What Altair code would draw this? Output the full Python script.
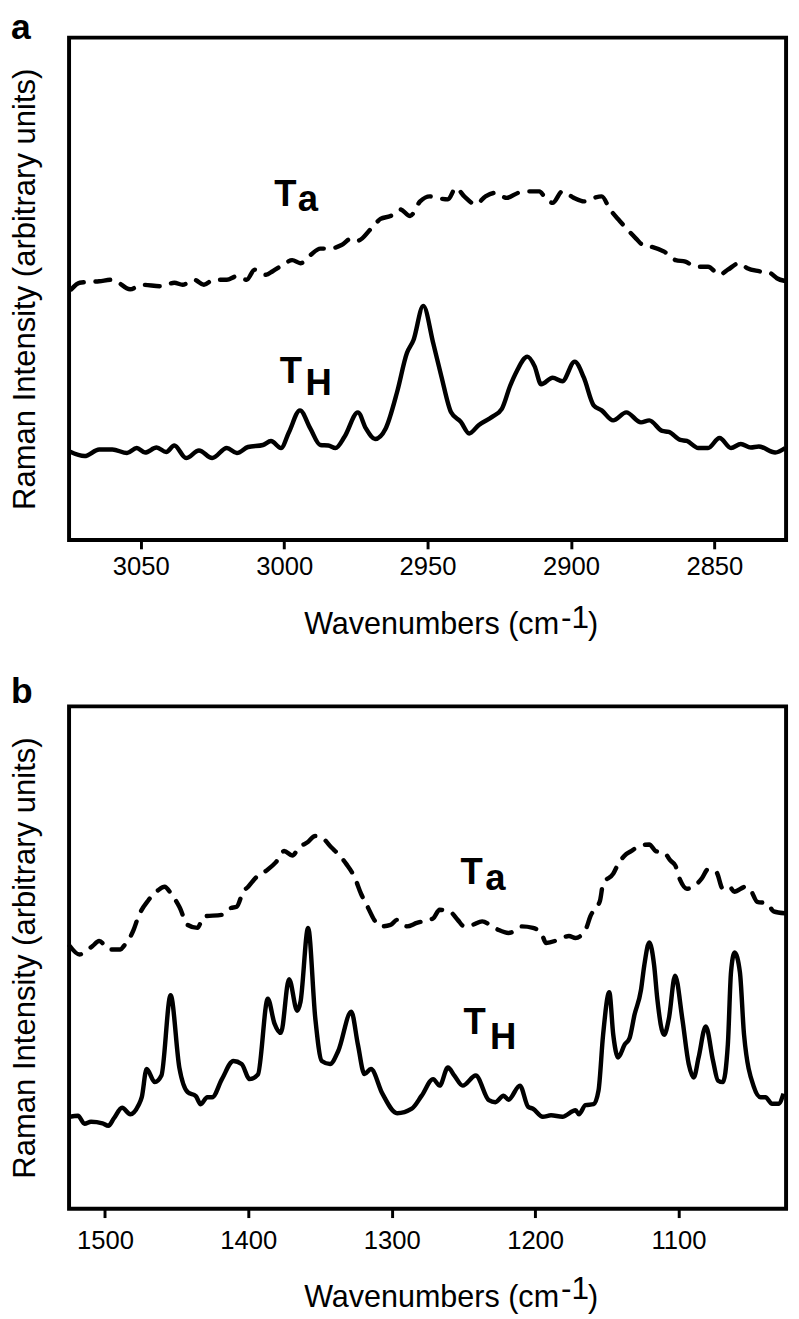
import altair as alt
import pandas as pd

FONT = "Liberation Sans"

# ---------------- Panel a (C-H stretching region) ----------------
A_TH_WN = [3074.8, 3069.6, 3064.5, 3059.9, 3054.8, 3051.4, 3048.5, 3044.5, 3041.1, 3038.3,
           3034.2, 3029.7, 3025.1, 3020.0, 3016.5, 3012.6, 3007.4, 3004.6, 3001.1, 2998.3,
           2994.5, 2990.9, 2987.4, 2984.6, 2982.1, 2978.9, 2974.3, 2971.5, 2968.3, 2964.6,
           2960.6, 2957.2, 2954.9, 2951.5, 2948.0, 2945.2, 2941.8, 2938.4, 2935.5, 2932.1,
           2927.5, 2924.1, 2921.2, 2918.9, 2915.2, 2912.7, 2910.4, 2906.4, 2903.0, 2898.7,
           2895.5, 2892.1, 2889.3, 2885.3, 2880.7, 2875.6, 2872.7, 2868.2, 2865.9, 2861.9,
           2859.6, 2855.6, 2852.2, 2848.2, 2844.2, 2840.8, 2837.3, 2834.5, 2828.8, 2825.3]
A_TH_I = [17.6, 16.7, 18.0, 18.0, 17.3, 18.3, 17.4, 18.4, 17.5, 18.8,
          16.3, 17.8, 16.3, 18.3, 17.3, 18.5, 18.9, 19.7, 18.3, 21.5,
          25.8, 22.2, 18.9, 18.8, 18.3, 20.6, 25.4, 22.2, 20.1, 22.2,
          29.5, 37.2, 39.8, 46.6, 39.1, 32.6, 25.4, 23.5, 21.2, 22.9,
          24.5, 26.1, 30.7, 33.6, 36.5, 34.6, 31.0, 32.3, 31.6, 35.5,
          32.3, 26.8, 25.8, 23.8, 25.4, 23.4, 23.8, 21.7, 21.5, 19.9,
          19.7, 18.3, 18.3, 20.3, 18.3, 19.1, 18.4, 18.6, 17.4, 18.3]

A_TA_WN = [3074.2, 3071.3, 3064.5, 3059.9, 3053.7, 3049.7, 3042.8, 3038.3, 3035.4, 3031.4,
           3028.0, 3024.6, 3020.0, 3016.5, 3013.1, 3010.3, 3006.3, 3004.0, 3000.6, 2997.2,
           2994.3, 2990.9, 2987.4, 2984.6, 2980.0, 2976.6, 2974.3, 2969.8, 2966.4, 2962.9,
           2959.5, 2956.1, 2952.6, 2949.2, 2946.9, 2942.9, 2940.1, 2937.2, 2933.2, 2929.8,
           2926.4, 2922.4, 2918.4, 2915.0, 2911.0, 2909.3, 2906.4, 2903.0, 2899.0, 2895.5,
           2892.1, 2889.3, 2886.4, 2883.0, 2877.3, 2874.9, 2871.5, 2867.5, 2863.5, 2860.1,
           2856.6, 2852.2, 2848.2, 2845.3, 2841.3, 2838.5, 2834.5, 2830.5, 2828.2, 2824.8]
A_TA_I = [49.9, 51.2, 51.5, 51.8, 49.9, 50.8, 50.5, 51.2, 50.8, 51.8,
          50.8, 51.8, 51.8, 52.5, 51.8, 53.8, 52.8, 53.5, 54.7, 55.7,
          55.1, 56.7, 58.0, 58.0, 58.7, 60.0, 59.6, 61.9, 63.9, 64.5,
          65.8, 64.5, 67.4, 68.4, 68.1, 67.8, 70.1, 68.4, 66.8, 68.4,
          69.1, 68.1, 69.1, 69.4, 69.4, 68.4, 67.1, 69.4, 68.1, 67.4,
          68.1, 68.4, 65.8, 63.5, 60.0, 58.7, 58.3, 57.4, 55.7, 55.4,
          54.4, 54.4, 52.8, 53.8, 55.1, 54.1, 53.5, 53.1, 52.1, 51.5]

A_LAB_TXT = ["T", "a", "T", "H"]
A_LAB_WN = [3003.5, 2995.3, 3001.5, 2992.6]
A_LAB_I = [66.5, 65.5, 31.2, 28.8]
A_TICKS = [3050, 3000, 2950, 2900, 2850]
A_DOMAIN = [2825, 3075]

# ---------------- Panel b (fingerprint region) ----------------
B_TH_WN = [1524.5, 1518.8, 1514.2, 1509.7, 1501.7, 1497.6, 1493.7, 1488.0, 1482.3, 1476.6,
           1474.3, 1470.9, 1465.2, 1460.6, 1454.2, 1448.1, 1442.3, 1436.6, 1433.2, 1428.6,
           1425.2, 1418.4, 1410.4, 1404.7, 1399.0, 1393.3, 1386.4, 1381.8, 1377.3, 1371.6,
           1365.9, 1363.6, 1358.3, 1353.3, 1348.8, 1343.0, 1337.3, 1328.2, 1323.6, 1319.0,
           1314.5, 1306.5, 1296.2, 1286.0, 1279.1, 1271.1, 1266.6, 1260.8, 1256.3, 1250.5,
           1241.4, 1232.3, 1227.7, 1222.0, 1218.6, 1210.6, 1204.9, 1201.5, 1194.7, 1188.9,
           1181.0, 1171.8, 1169.5, 1164.9, 1159.2, 1155.8, 1152.6, 1148.3, 1145.5, 1142.1,
           1137.5, 1134.1, 1130.7, 1126.2, 1123.9, 1120.4, 1117.0, 1114.8, 1110.1, 1106.7,
           1102.4, 1097.4, 1092.9, 1089.4, 1086.0, 1081.0, 1075.9, 1072.5, 1069.1, 1065.6,
           1063.4, 1060.9, 1057.2, 1054.3, 1047.4, 1042.8, 1039.4, 1034.8, 1030.3, 1026.8]
B_TH_I = [18.3, 18.5, 16.9, 17.3, 17.0, 16.5, 18.0, 20.1, 18.8, 20.6,
          22.2, 27.8, 25.2, 26.5, 42.5, 28.1, 23.2, 22.4, 20.8, 22.2,
          22.2, 25.8, 29.4, 28.8, 25.8, 26.7, 41.8, 36.9, 35.0, 45.7,
          39.4, 41.2, 55.9, 37.9, 29.4, 28.8, 31.4, 39.2, 32.7, 26.8,
          27.8, 22.9, 19.0, 19.9, 22.5, 25.8, 24.5, 28.1, 26.5, 24.5,
          26.5, 21.6, 21.2, 22.5, 21.7, 24.5, 20.3, 19.9, 18.3, 18.6,
          18.3, 19.6, 18.8, 20.6, 20.8, 23.5, 34.6, 43.1, 34.6, 30.1,
          32.7, 34.0, 38.6, 43.5, 48.4, 53.0, 48.4, 41.8, 34.6, 37.9,
          46.4, 37.9, 28.8, 26.1, 30.1, 36.3, 29.4, 25.5, 25.2, 32.7,
          47.1, 51.0, 47.1, 34.6, 24.2, 22.2, 22.2, 20.9, 20.9, 22.9]

B_TA_WN = [1524.5, 1517.7, 1513.2, 1508.6, 1504.0, 1497.1, 1489.2, 1486.8, 1480.0, 1476.6,
           1469.7, 1462.9, 1458.4, 1453.8, 1448.1, 1442.3, 1435.5, 1431.0, 1418.4, 1412.7,
           1408.1, 1403.6, 1400.1, 1394.4, 1387.5, 1380.7, 1375.0, 1369.3, 1364.7, 1359.0,
           1353.3, 1348.8, 1342.0, 1337.3, 1331.6, 1325.9, 1321.4, 1316.8, 1312.2, 1307.7,
           1300.8, 1296.3, 1289.4, 1282.5, 1271.1, 1266.6, 1259.7, 1254.0, 1249.4, 1243.7,
           1236.9, 1230.0, 1225.5, 1218.6, 1212.9, 1209.5, 1201.5, 1195.8, 1192.3, 1183.2,
           1176.4, 1171.8, 1164.9, 1161.5, 1154.7, 1152.6, 1145.5, 1142.1, 1136.4, 1133.0,
           1127.3, 1120.4, 1115.9, 1110.1, 1105.6, 1102.2, 1098.8, 1094.2, 1089.6, 1083.9,
           1079.3, 1073.6, 1069.1, 1064.5, 1061.1, 1053.1, 1049.7, 1045.1, 1038.2, 1033.7,
           1025.7]
B_TA_I = [52.3, 50.6, 51.3, 52.3, 53.3, 51.6, 51.6, 52.3, 55.5, 58.2,
          61.4, 63.4, 64.1, 62.7, 60.1, 56.5, 55.9, 58.2, 58.5, 59.8,
          60.1, 63.1, 64.1, 66.0, 67.3, 69.0, 71.2, 70.3, 71.9, 72.9,
          74.2, 73.9, 71.9, 70.6, 68.6, 66.0, 62.7, 60.1, 57.5, 56.2,
          56.5, 57.5, 56.2, 56.9, 57.8, 59.5, 59.2, 57.5, 56.2, 56.5,
          57.2, 56.2, 55.5, 54.9, 55.5, 56.2, 55.9, 54.9, 52.9, 53.6,
          54.3, 53.9, 55.5, 58.2, 61.4, 64.7, 66.7, 68.6, 70.6, 71.2,
          72.2, 72.5, 71.2, 70.9, 69.3, 68.3, 65.4, 63.7, 64.1, 65.7,
          67.6, 67.0, 63.7, 64.1, 63.1, 64.1, 63.4, 61.1, 60.8, 59.2,
          58.8]

B_LAB_TXT = ["T", "a", "T", "H"]
B_LAB_WN = [1252.0, 1234.8, 1250.0, 1231.4]
B_LAB_I = [64.7, 63.4, 34.7, 31.8]
B_TICKS = [1500, 1400, 1300, 1200, 1100]
B_DOMAIN = [1025, 1525]

Y_TITLE = "Raman Intensity (arbitrary units)"
X_MAIN = "Wavenumbers (cm"
X_SUP = "-1"
X_CLOSE = ")"

W = 728
H = 510


def panel(letter, th_wn, th_i, ta_wn, ta_i, lab_txt, lab_wn, lab_i,
          domain, ticks, label_pad, xt_main, xt_sup, letter_y):
    xs = alt.Scale(domain=domain, reverse=True, nice=False, zero=False)
    ys = alt.Scale(domain=[0, 100], nice=False, zero=False)
    xa = alt.Axis(values=ticks, format="d", title=None, domain=False, grid=False,
                  ticks=True, tickSize=9, tickWidth=3, tickColor="black",
                  labelFontSize=26, labelFont=FONT, labelColor="black",
                  labelPadding=label_pad, labelFlush=False)
    ya = alt.Axis(title=Y_TITLE, labels=False, ticks=False, domain=False, grid=False,
                  titleFont=FONT, titleFontSize=31.5, titleFontWeight="normal",
                  titleColor="black", titlePadding=28)
    X = alt.X("wn:Q", scale=xs, axis=xa)
    Y = alt.Y("val:Q", scale=ys, axis=ya)

    th = pd.DataFrame({"wn": th_wn, "val": th_i})
    ta = pd.DataFrame({"wn": ta_wn, "val": ta_i})
    lab = pd.DataFrame({"wn": lab_wn, "val": lab_i, "txt": lab_txt})
    one = pd.DataFrame({"k": [0]})

    solid = alt.Chart(th).mark_line(color="black", strokeWidth=4.5,
                                    interpolate="monotone", strokeJoin="round").encode(x=X, y=Y)
    dashed = alt.Chart(ta).mark_line(color="black", strokeWidth=4.5, interpolate="monotone",
                                     strokeDash=[15, 12], strokeCap="round",
                                     strokeJoin="round").encode(x=X, y=Y)
    labels = alt.Chart(lab).mark_text(align="left", baseline="alphabetic", font=FONT,
                                      fontSize=37, fontWeight="bold", color="black").encode(
        x=X, y=Y, text="txt:N")
    t_main = alt.Chart(one).mark_text(text=X_MAIN, align="right", baseline="alphabetic",
                                      font=FONT, fontSize=31, color="black").encode(
        x=alt.value(497.5), y=alt.value(H + xt_main))
    t_sup = alt.Chart(one).mark_text(text=X_SUP, align="left", baseline="alphabetic",
                                     font=FONT, fontSize=32, color="black").encode(
        x=alt.value(499.5), y=alt.value(H + xt_sup))
    t_close = alt.Chart(one).mark_text(text=X_CLOSE, align="left", baseline="alphabetic",
                                       font=FONT, fontSize=31, color="black").encode(
        x=alt.value(527), y=alt.value(H + xt_main))
    t_letter = alt.Chart(one).mark_text(text=letter, align="left", baseline="alphabetic",
                                        font=FONT, fontSize=36, fontWeight="bold",
                                        color="black").encode(
        x=alt.value(-59), y=alt.value(letter_y))

    return alt.layer(solid, dashed, labels, t_main, t_sup, t_close, t_letter).properties(
        width=W, height=H)


pa = panel("a", A_TH_WN, A_TH_I, A_TA_WN, A_TA_I, A_LAB_TXT, A_LAB_WN, A_LAB_I,
           A_DOMAIN, A_TICKS, 5.5, 95, 89, 1)
pb = panel("b", B_TH_WN, B_TH_I, B_TA_WN, B_TA_I, B_LAB_TXT, B_LAB_WN, B_LAB_I,
           B_DOMAIN, B_TICKS, 10, 100, 92, -3.5)

chart = alt.vconcat(pa, pb, spacing=31).properties(
    padding={"top": -10, "left": 0, "right": 0, "bottom": 0}
).configure_view(stroke="black", strokeWidth=4)

chart.save("out.html", embed_options={"renderer": "svg", "actions": False})
